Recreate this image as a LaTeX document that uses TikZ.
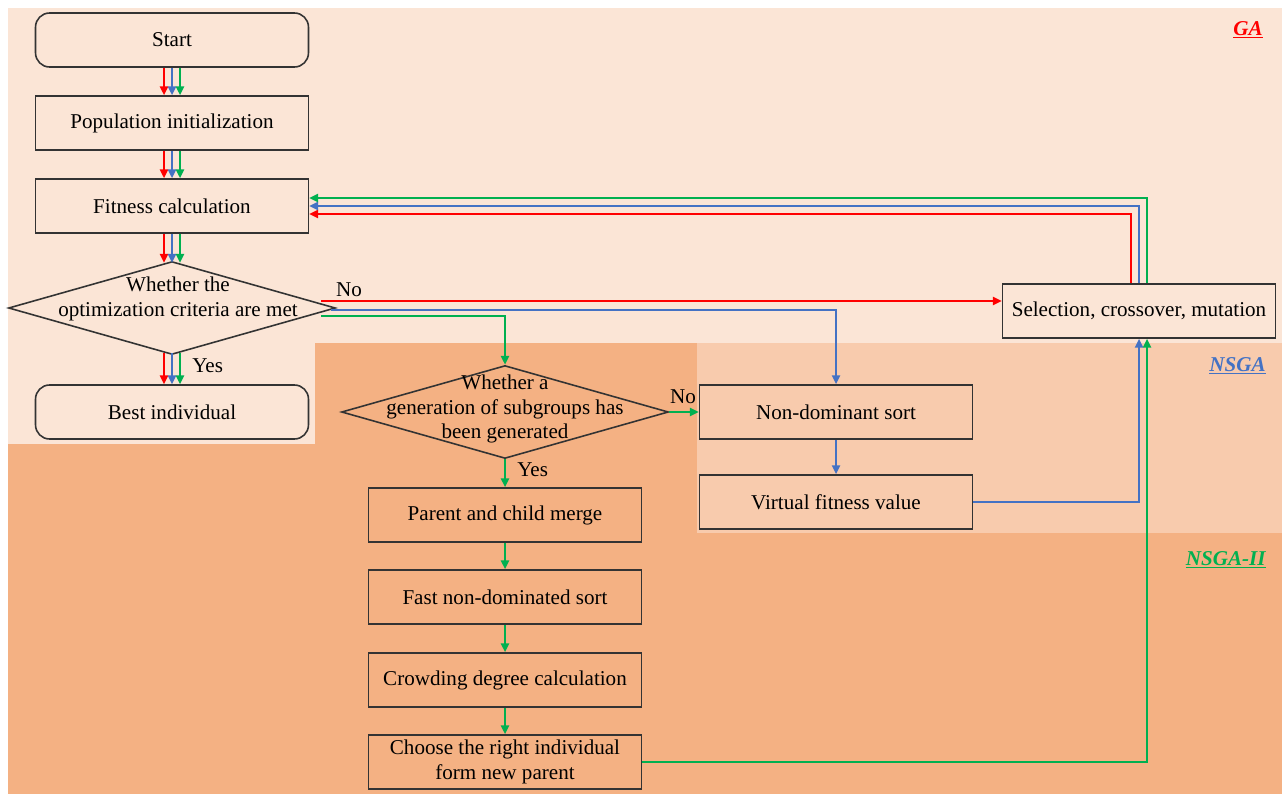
\documentclass[tikz,border=0pt]{standalone}
\usepackage{fontspec}
\setmainfont{Liberation Serif}
\usetikzlibrary{shapes.geometric,calc,arrows.meta}
\definecolor{gabg}{HTML}{FBE5D6}
\definecolor{nsgabg}{HTML}{F8CBAD}
\definecolor{nsgaiibg}{HTML}{F4B183}
\definecolor{gared}{HTML}{FF0000}
\definecolor{nsblue}{HTML}{4472C4}
\definecolor{nsgreen}{HTML}{00B050}
\tikzset{
	box/.style={draw=black!80, line width=0.9pt, minimum width=5.46cm, minimum height=1.08cm, align=center, inner sep=0pt},
	roundbox/.style={box, rounded corners=8pt},
	decision/.style={draw=black!80, line width=0.9pt, shape=diamond, minimum width=6.54cm, minimum height=1.86cm, inner sep=0pt},
	flow/.style={line width=1.2pt, -{Triangle[length=5pt,width=4.5pt]}},
	tag/.style={font=\bfseries\itshape}
}
\begin{document}
\begin{tikzpicture}[x=0.02cm, y=-0.02cm]
	\fontsize{12}{14.2}\selectfont
	\useasboundingbox (0,0) rectangle (1282,794);
	% Fonds
	\fill[nsgaiibg] (8,343) rectangle (1282,794);
	\fill[gabg] (8,8) rectangle (1282,343);
	\fill[gabg] (8,343) rectangle (315,444);
	\fill[nsgabg] (697,343) rectangle (1282,533);
	\node[tag, gared, anchor=east] (lga) at (1270,30) {\underline{GA}};
	\node[tag, nsblue, anchor=east] (lnsga) at (1273,366) {\underline{NSGA}};
	\node[tag, nsgreen, anchor=east] (lnsgaii) at (1273,560) {\underline{NSGA-II}};
	
	% Colonne GA
	\node[roundbox] (start) at (172,40) {Start};
	\node[box] (pop) at (172,123) {Population initialization};
	\node[box] (fit) at (172,206) {Fitness calculation};
	\node[decision] (d1) at (172,308) {};
	\node[align=center] (d1txt) at (178,299) {Whether the\\optimization criteria are met};
	\node[roundbox] (best) at (172,412) {Best individual};
	\node[box] (sel) at (1139,311) {Selection, crossover, mutation};
	
	% Colonne NSGA
	\node[box] (nds) at (836,412) {Non-dominant sort};
	\node[box] (vfv) at (836,502) {Virtual fitness value};
	
	% Colonne NSGA-II
	\node[decision] (d2) at (505,412) {};
	\node[align=center] (d2txt) at (505,409) {Whether a\\generation of subgroups has\\been generated};
	\node[box] (pcm) at (505,515) {Parent and child merge};
	\node[box] (fns) at (505,597) {Fast non-dominated sort};
	\node[box] (cdc) at (505,680) {Crowding degree calculation};
	\node[box] (crn) at (505,762) {Choose the right individual\\form new parent};
	
	% Fleches communes
	\foreach \c/\dx in {gared/-8, nsblue/0, nsgreen/8} {
		\draw[flow, \c] ($(start.south)+(\dx,0)$) -- ($(pop.north)+(\dx,0)$);
		\draw[flow, \c] ($(pop.south)+(\dx,0)$) -- ($(fit.north)+(\dx,0)$);
		\draw[flow, \c] ($(fit.south)+(\dx,0)$) -- ($(d1.north)+(\dx,2)$);
		\draw[flow, \c] ($(d1.south)+(\dx,-2)$) -- ($(best.north)+(\dx,0)$);
	}
	\node[anchor=west] (yes1) at (185,366) {Yes};
	
	% Sorties "No"
	\coordinate (rout) at ($(d1.east)+(-15,-7)$);
	\coordinate (bout) at ($(d1.east)+(-5,2)$);
	\coordinate (gout) at ($(d1.east)+(-15,8)$);
	\draw[flow, gared] (rout) -- (rout -| sel.west);
	\draw[flow, nsblue] (bout) -| (nds.north);
	\draw[flow, nsgreen] (gout) -| (d2.north);
	\node (no1) at (349,290) {No};
	
	% Retour vers le calcul
	\draw[flow, gared] ($(sel.north)+(-8,0)$) |- ($(fit.east)+(0,8)$);
	\draw[flow, nsblue] (sel.north) |- (fit.east);
	\draw[flow, nsgreen] ($(sel.north)+(8,0)$) |- ($(fit.east)+(0,-8)$);
	
	% NSGA
	\draw[flow, nsblue] (nds.south) -- (vfv.north);
	\draw[flow, nsblue] (vfv.east) -| (sel.south);
	
	% NSGA-II
	\draw[flow, nsgreen] (d2.east) -- (nds.west);
	\node (no2) at (683,397) {No};
	\draw[flow, nsgreen] (d2.south) -- (pcm.north);
	\node[anchor=west] (yes2) at (510,470) {Yes};
	\draw[flow, nsgreen] (pcm.south) -- (fns.north);
	\draw[flow, nsgreen] (fns.south) -- (cdc.north);
	\draw[flow, nsgreen] (cdc.south) -- (crn.north);
	\draw[flow, nsgreen] (crn.east) -| ($(sel.south)+(8,0)$);
\end{tikzpicture}
\end{document}
